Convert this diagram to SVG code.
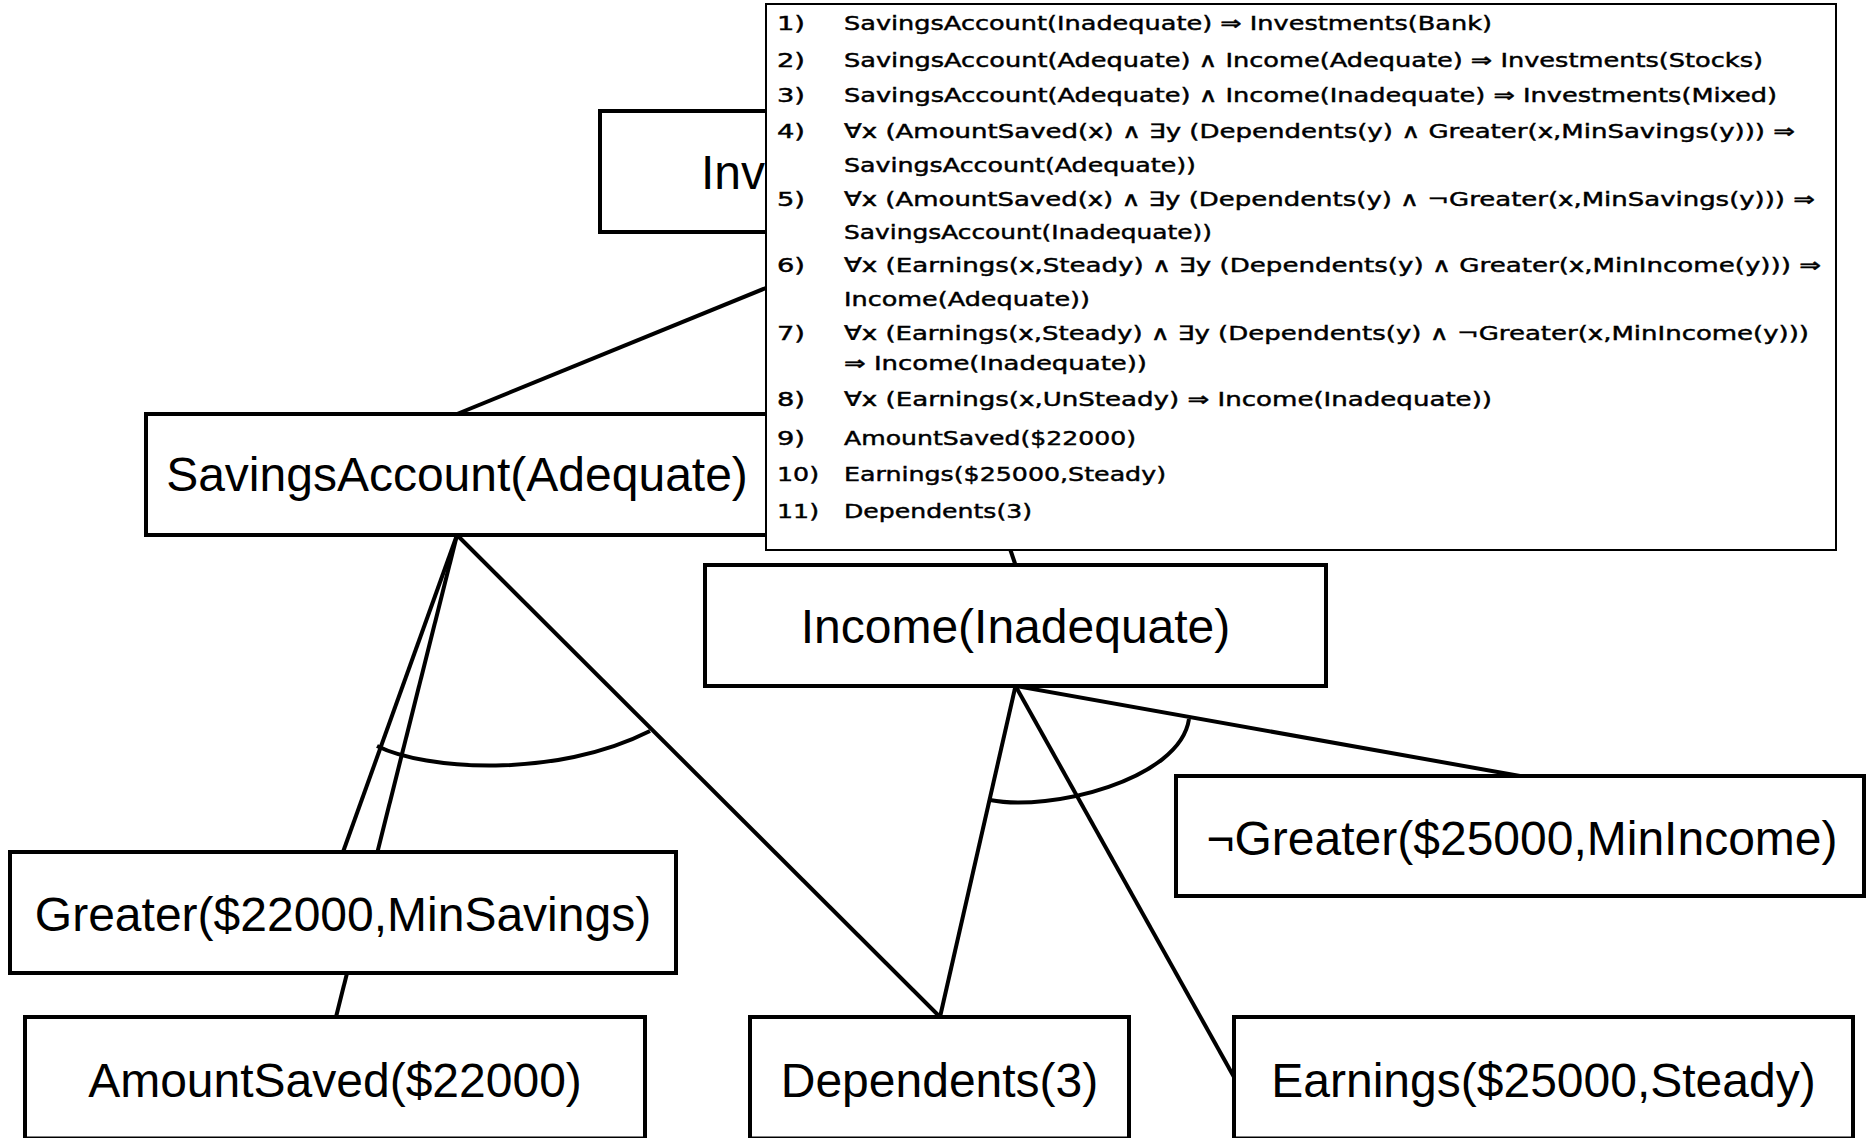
<svg xmlns="http://www.w3.org/2000/svg" width="1870" height="1138" viewBox="0 0 1870 1138">
<style>
.node rect{fill:#fff;stroke:#000;stroke-width:4}
.node text{font-family:"Liberation Sans",Arial,sans-serif;font-size:48px;text-anchor:middle;fill:#000}
.edge{stroke:#000;stroke-width:4;fill:none}
.leg text{font-family:"DejaVu Sans",Verdana,sans-serif;font-size:20px;fill:#000;stroke:#000;stroke-width:0.45}
</style>
<rect x="0" y="0" width="1870" height="1138" fill="#fff"/>
<g id="connectors">
<line class="edge" x1="903" y1="232" x2="457" y2="414"/>
<line class="edge" x1="903" y1="232" x2="1015.5" y2="565"/>
<line class="edge" x1="457" y1="535" x2="343" y2="852"/>
<line class="edge" x1="457" y1="535" x2="336" y2="1017"/>
<line class="edge" x1="457" y1="535" x2="940" y2="1017"/>
<path class="edge" d="M377,746 C425,770 555,779 650,731"/>
<line class="edge" x1="1015.5" y1="686" x2="940" y2="1017"/>
<line class="edge" x1="1015.5" y1="686" x2="1234" y2="1077"/>
<line class="edge" x1="1015.5" y1="686" x2="1520" y2="776"/>
<path class="edge" d="M990,800 C1050,812 1180,780 1189,719"/>
</g>
<g id="n-investments" class="node"><rect x="600" y="111" width="606" height="121"/><text x="701" y="189" style="text-anchor:start">Inv</text></g>
<g id="n-savings" class="node"><rect x="146" y="414" width="622" height="121"/><text x="457" y="491">SavingsAccount(Adequate)</text></g>
<g id="n-income" class="node"><rect x="705" y="565" width="621" height="121"/><text x="1015.5" y="643">Income(Inadequate)</text></g>
<g id="n-greater-savings" class="node"><rect x="10" y="852" width="666" height="121"/><text x="343" y="931">Greater($22000,MinSavings)</text></g>
<g id="n-not-greater-income" class="node"><rect x="1176" y="776" width="688" height="120"/><text x="1522" y="855">¬Greater($25000,MinIncome)</text></g>
<g id="n-amount" class="node"><rect x="25" y="1017" width="620" height="121.5"/><text x="335" y="1097">AmountSaved($22000)</text></g>
<g id="n-dependents" class="node"><rect x="750" y="1017" width="379" height="121.5"/><text x="939.5" y="1097">Dependents(3)</text></g>
<g id="n-earnings" class="node"><rect x="1234" y="1017" width="619" height="121.5"/><text x="1543.5" y="1097">Earnings($25000,Steady)</text></g>
<g id="legend" class="leg">
<rect x="766" y="4" width="1070" height="546" fill="#fff" stroke="#000" stroke-width="2"/>
<text x="777" y="30" textLength="28" lengthAdjust="spacingAndGlyphs">1)</text>
<text x="844" y="30" textLength="648" lengthAdjust="spacingAndGlyphs">SavingsAccount(Inadequate) ⇒ Investments(Bank)</text>
<text x="777" y="67" textLength="28" lengthAdjust="spacingAndGlyphs">2)</text>
<text x="844" y="67" textLength="919" lengthAdjust="spacingAndGlyphs">SavingsAccount(Adequate) ∧ Income(Adequate) ⇒ Investments(Stocks)</text>
<text x="777" y="102" textLength="28" lengthAdjust="spacingAndGlyphs">3)</text>
<text x="844" y="102" textLength="933" lengthAdjust="spacingAndGlyphs">SavingsAccount(Adequate) ∧ Income(Inadequate) ⇒ Investments(Mixed)</text>
<text x="777" y="138" textLength="28" lengthAdjust="spacingAndGlyphs">4)</text>
<text x="844" y="138" textLength="951" lengthAdjust="spacingAndGlyphs">∀x (AmountSaved(x) ∧ ∃y (Dependents(y) ∧ Greater(x,MinSavings(y))) ⇒</text>
<text x="844" y="172" textLength="352" lengthAdjust="spacingAndGlyphs">SavingsAccount(Adequate))</text>
<text x="777" y="206" textLength="28" lengthAdjust="spacingAndGlyphs">5)</text>
<text x="844" y="206" textLength="971" lengthAdjust="spacingAndGlyphs">∀x (AmountSaved(x) ∧ ∃y (Dependents(y) ∧ ¬Greater(x,MinSavings(y))) ⇒</text>
<text x="844" y="239" textLength="368" lengthAdjust="spacingAndGlyphs">SavingsAccount(Inadequate))</text>
<text x="777" y="272" textLength="28" lengthAdjust="spacingAndGlyphs">6)</text>
<text x="844" y="272" textLength="977" lengthAdjust="spacingAndGlyphs">∀x (Earnings(x,Steady) ∧ ∃y (Dependents(y) ∧ Greater(x,MinIncome(y))) ⇒</text>
<text x="844" y="306" textLength="246" lengthAdjust="spacingAndGlyphs">Income(Adequate))</text>
<text x="777" y="340" textLength="28" lengthAdjust="spacingAndGlyphs">7)</text>
<text x="844" y="340" textLength="965" lengthAdjust="spacingAndGlyphs">∀x (Earnings(x,Steady) ∧ ∃y (Dependents(y) ∧ ¬Greater(x,MinIncome(y)))</text>
<text x="844" y="370" textLength="303" lengthAdjust="spacingAndGlyphs">⇒ Income(Inadequate))</text>
<text x="777" y="406" textLength="28" lengthAdjust="spacingAndGlyphs">8)</text>
<text x="844" y="406" textLength="648" lengthAdjust="spacingAndGlyphs">∀x (Earnings(x,UnSteady) ⇒ Income(Inadequate))</text>
<text x="777" y="445" textLength="28" lengthAdjust="spacingAndGlyphs">9)</text>
<text x="844" y="445" textLength="292" lengthAdjust="spacingAndGlyphs">AmountSaved($22000)</text>
<text x="777" y="481" textLength="42" lengthAdjust="spacingAndGlyphs">10)</text>
<text x="844" y="481" textLength="322" lengthAdjust="spacingAndGlyphs">Earnings($25000,Steady)</text>
<text x="777" y="518" textLength="42" lengthAdjust="spacingAndGlyphs">11)</text>
<text x="844" y="518" textLength="188" lengthAdjust="spacingAndGlyphs">Dependents(3)</text>
</g>
</svg>
